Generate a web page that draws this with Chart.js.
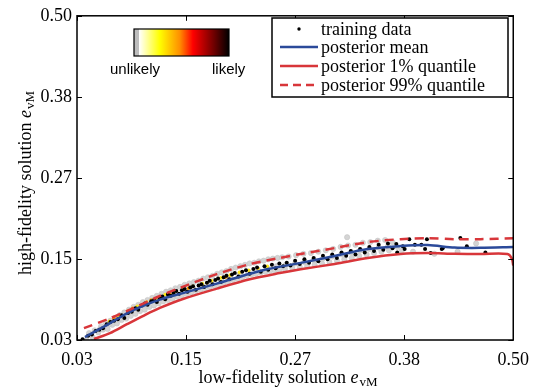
<!DOCTYPE html>
<html>
<head>
<meta charset="utf-8">
<script src="https://cdn.jsdelivr.net/npm/chart.js@4.4.1/dist/chart.umd.min.js"></script>
<style>
  html, body { margin: 0; padding: 0; background: #fff; }
  #wrap { width: 538px; height: 392px; }
</style>
</head>
<body>
<div id="wrap"><canvas id="chart"></canvas></div>
<script>
// axis ticks (same for both axes)
const tickValues = [0.03, 0.1475, 0.265, 0.3825, 0.50];
const tickLabels = ['0.03', '0.15', '0.27', '0.38', '0.50'];

// posterior curves [x, y]
const meanCurve = [[0.0386,0.0343],[0.0600,0.0500],[0.0838,0.0687],[0.1021,0.0800],[0.1193,0.0885],
  [0.1441,0.0980],[0.1806,0.1117],[0.2162,0.1260],[0.2344,0.1325],[0.2710,0.1418],[0.3076,0.1518],
  [0.3431,0.1618],[0.3786,0.1661],[0.4077,0.1676],[0.4367,0.1640],[0.4647,0.1636],[0.5000,0.1647]];
const q01Curve = [[0.0483,0.0314],[0.0655,0.0400],[0.0838,0.0529],[0.1021,0.0655],[0.1193,0.0765],
  [0.1441,0.0895],[0.1806,0.1045],[0.2162,0.1180],[0.2484,0.1270],[0.2710,0.1325],
  [0.3076,0.1403],[0.3431,0.1489],[0.3786,0.1547],[0.4077,0.1561],[0.4367,0.1550],[0.4647,0.1547],
  [0.4938,0.1547],[0.4985,0.1480],[0.5000,0.1380]];
const q99Curve = [[0.0375,0.0472],[0.0655,0.0615],[0.0913,0.0765],[0.1161,0.0920],[0.1408,0.1055],
  [0.1806,0.1255],[0.2162,0.1400],[0.2484,0.1489],[0.2710,0.1547],[0.3076,0.1633],[0.3431,0.1719],
  [0.3786,0.1762],[0.4077,0.1776],[0.4367,0.1762],[0.4647,0.1762],[0.5000,0.1776]];

// training data
const trainingData = [[0.036,0.031],[0.042,0.036],[0.046,0.038],[0.050,0.043],[0.054,0.045],[0.058,0.047],
  [0.062,0.053],[0.066,0.056],[0.070,0.058],[0.074,0.060],[0.078,0.066],[0.081,0.062],[0.085,0.069],
  [0.089,0.071],[0.093,0.076],[0.096,0.074],[0.100,0.080],[0.103,0.083],[0.106,0.081],[0.110,0.086],
  [0.113,0.088],[0.116,0.085],[0.119,0.091],[0.122,0.093],[0.125,0.089],[0.128,0.096],[0.131,0.094],
  [0.134,0.098],[0.137,0.101],[0.140,0.097],[0.143,0.102],[0.146,0.104],[0.149,0.100],[0.152,0.106],
  [0.155,0.108],[0.158,0.103],[0.161,0.109],[0.164,0.111],[0.167,0.107],[0.170,0.113],[0.173,0.116],
  [0.176,0.111],[0.179,0.117],[0.182,0.119],[0.185,0.114],[0.188,0.121],[0.191,0.123],[0.194,0.118],
  [0.197,0.125],[0.200,0.127],[0.204,0.122],[0.208,0.129],[0.212,0.131],[0.216,0.126],[0.220,0.133],
  [0.224,0.135],[0.228,0.129],[0.232,0.137],[0.236,0.132],[0.240,0.139],[0.244,0.134],[0.248,0.141],
  [0.252,0.137],[0.256,0.142],[0.260,0.138],[0.265,0.145],[0.270,0.140],[0.275,0.147],[0.280,0.142],
  [0.285,0.149],[0.290,0.144],[0.295,0.152],[0.300,0.147],[0.305,0.154],[0.310,0.149],[0.315,0.157],
  [0.320,0.152],[0.325,0.159],[0.330,0.154],[0.335,0.162],[0.340,0.157],[0.345,0.165],[0.350,0.159],
  [0.355,0.168],[0.360,0.161],[0.365,0.170],[0.370,0.163],
  [0.374,0.169],[0.375,0.157],[0.381,0.166],[0.383,0.162],[0.388,0.176],[0.394,0.168],[0.401,0.168],
  [0.405,0.162],[0.407,0.176],[0.411,0.156],[0.423,0.162],[0.424,0.163],[0.443,0.178],[0.450,0.166],
  [0.470,0.157]];

// sampled outputs, grey cloud
const samplesGrey = [[0.040,0.030],[0.043,0.040],[0.047,0.034],[0.049,0.044],[0.053,0.041],[0.056,0.050],
  [0.058,0.045],[0.061,0.055],[0.063,0.046],[0.066,0.058],[0.068,0.052],[0.071,0.062],[0.073,0.054],
  [0.076,0.066],[0.078,0.059],[0.081,0.070],[0.083,0.061],[0.086,0.074],[0.088,0.065],[0.091,0.078],
  [0.093,0.068],[0.096,0.081],[0.098,0.072],[0.101,0.085],[0.103,0.074],[0.106,0.088],[0.108,0.078],
  [0.111,0.091],[0.113,0.080],[0.116,0.094],[0.118,0.083],[0.121,0.097],[0.123,0.086],[0.126,0.100],
  [0.128,0.088],[0.131,0.102],[0.133,0.090],[0.136,0.105],[0.138,0.093],[0.141,0.107],[0.143,0.095],
  [0.146,0.110],[0.148,0.097],[0.151,0.112],[0.153,0.099],[0.156,0.114],[0.158,0.101],[0.161,0.116],
  [0.163,0.103],[0.166,0.119],[0.168,0.105],[0.171,0.121],[0.173,0.107],[0.176,0.123],[0.178,0.109],
  [0.181,0.126],[0.183,0.111],[0.186,0.128],[0.188,0.113],[0.191,0.130],[0.193,0.115],[0.196,0.133],
  [0.198,0.117],[0.201,0.135],[0.203,0.119],[0.206,0.137],[0.208,0.121],[0.211,0.139],[0.213,0.123],
  [0.216,0.141],[0.218,0.125],[0.221,0.142],[0.223,0.126],[0.226,0.144],[0.228,0.128],[0.231,0.145],
  [0.233,0.129],[0.236,0.147],[0.238,0.130],[0.241,0.148],[0.243,0.131],[0.246,0.149],[0.248,0.132],
  [0.251,0.150],[0.254,0.133],[0.258,0.151],[0.262,0.134],[0.266,0.153],[0.270,0.136],[0.274,0.155],
  [0.278,0.137],[0.282,0.156],[0.286,0.139],[0.290,0.158],[0.294,0.141],[0.298,0.160],[0.302,0.143],
  [0.306,0.162],[0.310,0.145],[0.314,0.165],[0.318,0.147],[0.322,0.167],[0.326,0.149],[0.330,0.168],
  [0.334,0.152],[0.338,0.171],[0.342,0.154],[0.346,0.172],[0.350,0.156],[0.354,0.174],[0.358,0.158],
  [0.362,0.175],[0.366,0.160],[0.370,0.172],[0.375,0.165],[0.380,0.160],[0.392,0.158],[0.415,0.155],
  [0.440,0.158],[0.460,0.170],[0.321,0.179],
  [0.045,0.038],[0.055,0.046],[0.065,0.053],[0.075,0.060],[0.085,0.068],[0.095,0.076],[0.105,0.082],
  [0.115,0.087],[0.125,0.093],[0.135,0.097],[0.145,0.101],[0.155,0.105],[0.165,0.109],[0.175,0.113],
  [0.185,0.117],[0.195,0.121],[0.205,0.125],[0.215,0.128],[0.225,0.131],[0.235,0.134],[0.245,0.137],
  [0.255,0.139],[0.265,0.141],[0.275,0.143],[0.285,0.146],[0.295,0.148],[0.305,0.151],[0.315,0.154],
  [0.325,0.157],[0.335,0.160],[0.345,0.162],[0.355,0.164],[0.365,0.166]];

// samples near the mode
const samplesYellow = [[0.065,0.057],[0.075,0.064],[0.085,0.072],[0.095,0.079],[0.105,0.085],[0.115,0.090],
  [0.125,0.096],[0.135,0.100],[0.145,0.104],[0.155,0.108],[0.165,0.112],[0.175,0.116],[0.185,0.120],
  [0.195,0.124],[0.205,0.128],[0.215,0.131],[0.225,0.134],[0.235,0.137]];
const samplesOrange = [[0.070,0.061],[0.090,0.076],[0.110,0.088],[0.130,0.097],[0.150,0.105],
  [0.170,0.113],[0.190,0.121]];

const blue = '#2b4a9a';
const red = '#d8363a';
const serif = '"Liberation Serif", "Times New Roman", serif';
const sans = '"Liberation Sans", Arial, sans-serif';

const toXY = arr => arr.map(p => ({x: p[0], y: p[1]}));

// e_vM with italic e and subscript vM
function drawEvmLabel(ctx, prefix, x, y) {
    ctx.textBaseline = 'alphabetic';
    ctx.textAlign = 'left';
    ctx.font = '18px ' + serif;
    const w1 = ctx.measureText(prefix).width;
    ctx.font = 'italic 18px ' + serif;
    const w2 = ctx.measureText('e').width;
    ctx.font = '13px ' + serif;
    const w3 = ctx.measureText('vM').width;
    let cx = x - (w1 + w2 + w3 + 1) / 2;
    ctx.font = '18px ' + serif;
    ctx.fillText(prefix, cx, y);
    cx += w1;
    ctx.font = 'italic 18px ' + serif;
    ctx.fillText('e', cx, y);
    cx += w2 + 1;
    ctx.font = '13px ' + serif;
    ctx.fillText('vM', cx, y + 3);
}

const decorPlugin = {
    id: 'decor',
    afterDraw(chart) {
        const ctx = chart.ctx;
        const a = chart.chartArea;
        const xs = chart.scales.x, ys = chart.scales.y;
        ctx.save();
        // frame
        ctx.strokeStyle = '#000';
        ctx.lineWidth = 1.5;
        ctx.strokeRect(a.left, a.top, a.right - a.left, a.bottom - a.top);
        // inward ticks on all sides
        ctx.lineWidth = 1;
        ctx.beginPath();
        tickValues.forEach(v => {
            const px = Math.round(xs.getPixelForValue(v)) + 0.5;
            ctx.moveTo(px, a.bottom); ctx.lineTo(px, a.bottom - 5);
            ctx.moveTo(px, a.top); ctx.lineTo(px, a.top + 5);
            const py = Math.round(ys.getPixelForValue(v)) + 0.5;
            ctx.moveTo(a.left, py); ctx.lineTo(a.left + 5, py);
            ctx.moveTo(a.right, py); ctx.lineTo(a.right - 5, py);
        });
        ctx.stroke();

        // axis titles
        ctx.fillStyle = '#000';
        drawEvmLabel(ctx, 'low-fidelity solution ', 288, 383);
        ctx.save();
        ctx.translate(31, 183);
        ctx.rotate(-Math.PI / 2);
        drawEvmLabel(ctx, 'high-fidelity solution ', 0, 0);
        ctx.restore();

        // colour bar
        const cbX = 134, cbY = 29, cbW = 95, cbH = 27;
        const g = ctx.createLinearGradient(cbX, 0, cbX + cbW, 0);
        g.addColorStop(0, '#bdbdbd');
        g.addColorStop(0.05, '#bdbdbd');
        g.addColorStop(0.055, '#ffffff');
        g.addColorStop(0.27, '#ffff00');
        g.addColorStop(0.48, '#ff9000');
        g.addColorStop(0.62, '#ff0000');
        g.addColorStop(0.84, '#700000');
        g.addColorStop(1, '#000000');
        ctx.fillStyle = g;
        ctx.fillRect(cbX, cbY, cbW, cbH);
        ctx.strokeStyle = '#000';
        ctx.lineWidth = 1.2;
        ctx.strokeRect(cbX, cbY, cbW, cbH);
        ctx.fillStyle = '#000';
        ctx.font = '15px ' + sans;
        ctx.textAlign = 'left';
        ctx.textBaseline = 'alphabetic';
        ctx.fillText('unlikely', 110, 74);
        ctx.fillText('likely', 212, 74);

        // legend box
        const lx = 272, ly = 18, lw = 236, lh = 79;
        ctx.fillStyle = '#fff';
        ctx.fillRect(lx, ly, lw, lh);
        ctx.strokeStyle = '#000';
        ctx.lineWidth = 1.5;
        ctx.strokeRect(lx, ly, lw, lh);
        const rows = [
            {label: 'training data', kind: 'dot'},
            {label: 'posterior mean', kind: 'line', color: blue, dash: []},
            {label: 'posterior 1% quantile', kind: 'line', color: red, dash: []},
            {label: 'posterior 99% quantile', kind: 'line', color: red, dash: [8, 5]}
        ];
        const rowY = [29, 47, 66, 85];
        rows.forEach((r, i) => {
            const y = rowY[i];
            if (r.kind === 'dot') {
                ctx.fillStyle = '#000';
                ctx.beginPath();
                ctx.arc(299, y, 1.7, 0, Math.PI * 2);
                ctx.fill();
            } else {
                ctx.strokeStyle = r.color;
                ctx.lineWidth = 2.5;
                ctx.setLineDash(r.dash);
                ctx.beginPath();
                ctx.moveTo(280, y); ctx.lineTo(318, y);
                ctx.stroke();
                ctx.setLineDash([]);
            }
            ctx.fillStyle = '#000';
            ctx.font = '18px ' + serif;
            ctx.textBaseline = 'middle';
            ctx.fillText(r.label, 321, y + 1);
        });
        ctx.restore();
    }
};

const ctx = document.getElementById('chart');
const chart = new Chart(ctx, {
    type: 'scatter',
    data: {
        datasets: [
            {label: 'posterior 99% quantile', data: toXY(q99Curve), showLine: true, borderColor: red,
             borderWidth: 2.5, borderDash: [9, 6], pointRadius: 0, tension: 0.3},
            {label: 'posterior 1% quantile', data: toXY(q01Curve), showLine: true, borderColor: red,
             borderWidth: 2.5, pointRadius: 0, tension: 0.3},
            {label: 'posterior mean', data: toXY(meanCurve), showLine: true, borderColor: blue,
             borderWidth: 2.5, pointRadius: 0, tension: 0.3},
            {label: 'training data', data: toXY(trainingData), pointRadius: 2,
             backgroundColor: '#000', borderWidth: 0},
            {label: 'orange', data: toXY(samplesOrange), pointRadius: 1.8,
             backgroundColor: '#ff9a00', borderWidth: 0},
            {label: 'yellow', data: toXY(samplesYellow), pointRadius: 1.8,
             backgroundColor: '#ffe81a', borderWidth: 0},
            {label: 'samples', data: toXY(samplesGrey), pointRadius: 2.6,
             backgroundColor: '#d4d4d4', borderColor: '#c4c4c4', borderWidth: 0.6}
        ]
    },
    options: {
        responsive: true,
        maintainAspectRatio: false,
        animation: false,
        events: [],
        layout: {padding: {top: 12, right: 24, left: 0, bottom: 0}},
        plugins: {legend: {display: false}, tooltip: {enabled: false}},
        scales: {
            x: {
                type: 'linear', min: 0.03, max: 0.50,
                afterBuildTicks: s => { s.ticks = tickValues.map(v => ({value: v})); },
                afterFit: s => { s.height = 52; },
                grid: {display: false, drawTicks: false},
                border: {display: false},
                ticks: {
                    padding: 9, color: '#000', maxRotation: 0,
                    font: {family: serif, size: 18},
                    callback: (v, i) => tickLabels[i]
                }
            },
            y: {
                type: 'linear', min: 0.03, max: 0.50,
                afterBuildTicks: s => { s.ticks = tickValues.map(v => ({value: v})); },
                afterFit: s => { s.width = 77; },
                grid: {display: false, drawTicks: false},
                border: {display: false},
                ticks: {
                    padding: 5, color: '#000',
                    font: {family: serif, size: 18},
                    callback: (v, i) => tickLabels[i]
                }
            }
        }
    },
    plugins: [decorPlugin]
});
</script>
</body>
</html>
